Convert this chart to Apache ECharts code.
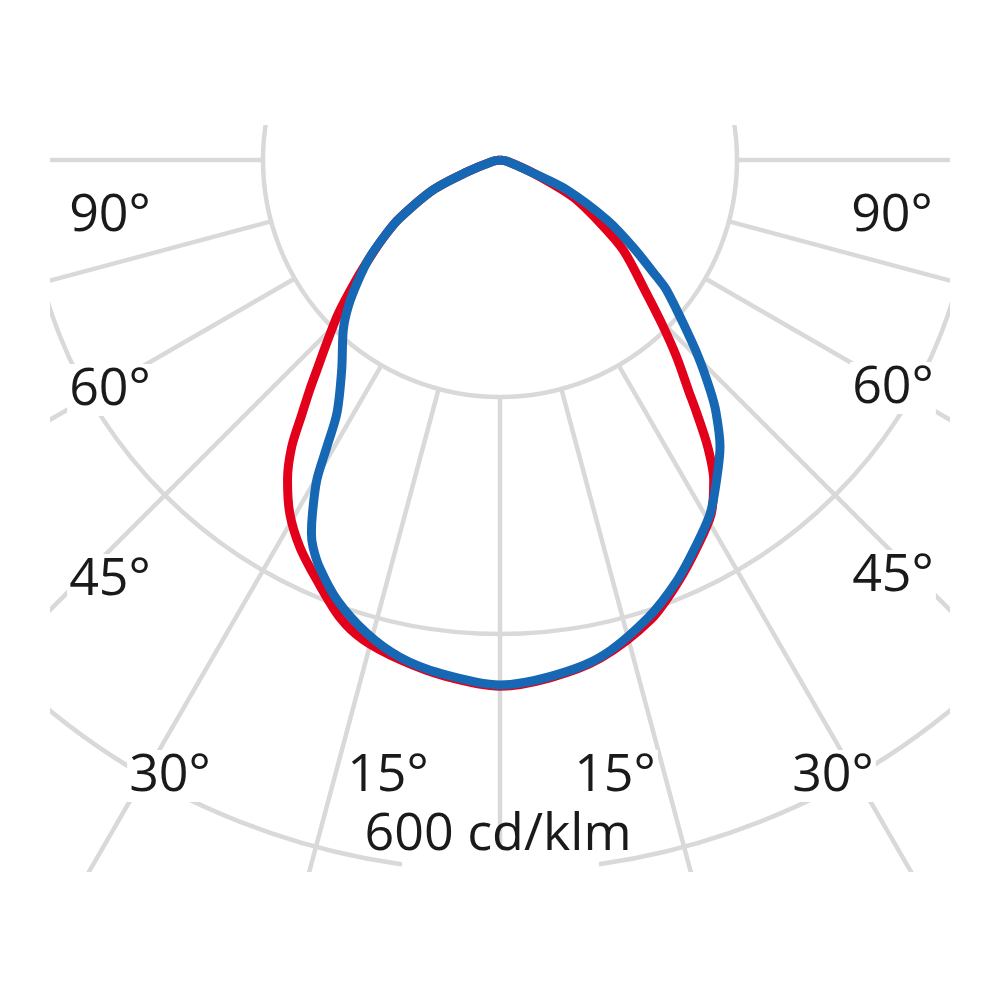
<!DOCTYPE html>
<html>
<head>
<meta charset="utf-8">
<title>Polar luminous intensity</title>
<script src="https://cdn.jsdelivr.net/npm/echarts@6/dist/echarts.min.js"></script>
<style>
  html, body { margin: 0; padding: 0; background: #fff; }
  #chart { width: 1000px; height: 1000px; }
</style>
</head>
<body>
<div id="chart"></div>
<script>
// C-plane 1 (red) : angle in degrees from nadir, left side negative
const redAngles = [-90, -80, -70, -65.9, -59.9, -57.1, -53.35, -50.2, -46.5, -43.4, -41.1, -39.6, -38.0, -36.0, -33.6, -30.75, -27.3, -23.5, -19.3, -15.9, -11.3, -6.1, 0,
  5.5, 11.35, 18.2, 23.0, 26.9, 30.8, 33.7, 35.9, 37.9, 39.3, 41.9, 44.7, 48.1, 53.8, 57.8, 63.1, 68.5, 80, 90];
const redValues = [0, 6, 30, 62, 98, 114, 136, 158, 188, 213, 235, 252, 271, 299, 324, 347, 368, 387, 409, 421, 430, 438, 444,
  439, 429, 408, 386, 367, 348, 325, 299, 270, 251, 223, 194, 164, 129, 100, 69, 30, 6, 0];

// C-plane 2 (blue)
const blueAngles = [-90, -80, -70, -65.9, -59.9, -57.1, -53.3, -49.3, -46.0, -42.7, -37.0, -32.8, -31.1, -29.8, -28.0, -26.8, -25.75, -23.9, -20.3, -15.7, -11.4, -6.7, 0,
  5.5, 11.4, 17.9, 22.85, 26.75, 30.75, 34.1, 37.5, 40.6, 42.4, 45.2, 48.3, 52.05, 53.3, 56.8, 60.7, 65.9, 68.5, 80, 90];
const blueValues = [0, 6, 30, 62, 98, 114, 137, 159, 178, 195, 222, 254, 283, 311, 337, 353, 363, 376, 396, 415, 428, 436, 443,
  438, 428, 406, 385, 366, 347, 326, 305, 280, 263, 236, 207, 178, 165, 134, 104, 62, 30, 6, 0];

const angleLabels = ['90°', '60°', '45°', '30°', '15°'];
const unitLabel = '600 cd/klm';

const pxPerUnit = 1.185;
const rMax = 800;
const cx = 500, cy = 160;
const gridColor = '#d9d9d9';
const font = '52px "Open Sans", sans-serif';

function pairs(angles, values) {
  return angles.map((a, i) => [values[i], a]);
}

function label(text, x, y) {
  return {
    type: 'text', x: x, y: y, z: 10,
    style: {
      text: text, fill: '#1a1a1a', font: font,
      align: 'center', verticalAlign: 'middle',
      textAlign: 'center', textVerticalAlign: 'middle',
      backgroundColor: '#fff', padding: [0, 2]
    }
  };
}

function mask(x, y, w, h) {
  return { type: 'rect', z: 100, shape: { x: x, y: y, width: w, height: h }, style: { fill: '#fff' } };
}

let myChart = echarts.init(document.getElementById('chart'));

let option = {
  backgroundColor: '#fff',
  animation: false,
  polar: [
    { center: [cx, cy], radius: [0, rMax * pxPerUnit] },
    { center: [cx, cy], radius: [200 * pxPerUnit, rMax * pxPerUnit] }
  ],
  angleAxis: [
    {
      polarIndex: 0, type: 'value', min: -180, max: 180, startAngle: 90, clockwise: false,
      axisLine: { show: false }, axisTick: { show: false }, axisLabel: { show: false },
      splitLine: { show: false }
    },
    {
      polarIndex: 1, type: 'value', min: -180, max: 180, interval: 15, startAngle: 90, clockwise: false,
      axisLine: { show: false }, axisTick: { show: false }, axisLabel: { show: false },
      splitLine: { show: true, lineStyle: { color: gridColor, width: 4.5 } }
    }
  ],
  radiusAxis: [
    {
      polarIndex: 0, min: 0, max: rMax, interval: 200,
      axisLine: { show: false }, axisTick: { show: false }, axisLabel: { show: false },
      splitLine: { show: true, lineStyle: { color: gridColor, width: 4.5 } }
    },
    {
      polarIndex: 1, min: 0, max: 1,
      axisLine: { show: false }, axisTick: { show: false }, axisLabel: { show: false },
      splitLine: { show: false }
    }
  ],
  series: [
    {
      type: 'line', coordinateSystem: 'polar', polarIndex: 0,
      data: pairs(redAngles, redValues),
      smooth: 0.3, symbol: 'none', z: 3,
      lineStyle: { color: '#e2001a', width: 9 }
    },
    {
      type: 'line', coordinateSystem: 'polar', polarIndex: 0,
      data: pairs(blueAngles, blueValues),
      smooth: 0.3, symbol: 'none', z: 4,
      lineStyle: { color: '#1668b4', width: 9 }
    }
  ],
  graphic: [
    label(angleLabels[0], 110, 216), label(angleLabels[0], 892, 216),
    label(angleLabels[1], 110, 390), label(angleLabels[1], 893, 388),
    label(angleLabels[2], 110, 580), label(angleLabels[2], 893, 576),
    label(angleLabels[3], 170, 776), label(angleLabels[3], 833, 776),
    label(angleLabels[4], 388, 776), label(angleLabels[4], 615, 776),
    { type: 'rect', z: 9, shape: { x: 402, y: 845, width: 197, height: 30 }, style: { fill: '#fff' } },
    {
      type: 'text', x: 498, y: 835, z: 10,
      style: {
        text: unitLabel, fill: '#1a1a1a', font: font,
        align: 'center', verticalAlign: 'middle',
        textAlign: 'center', textVerticalAlign: 'middle'
      }
    },
    mask(0, 0, 1000, 125),
    mask(0, 872, 1000, 128),
    mask(0, 0, 50, 1000),
    mask(950, 0, 50, 1000)
  ]
};
option && myChart.setOption(option);
</script>
</body>
</html>
